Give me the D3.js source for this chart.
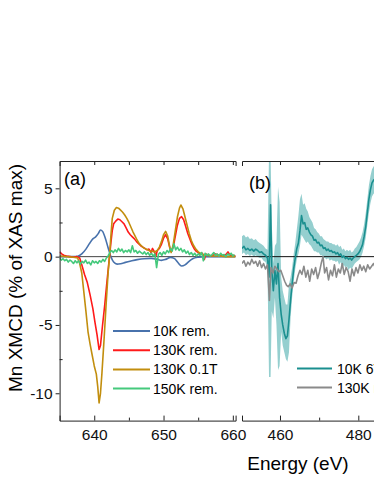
<!DOCTYPE html>
<html>
<head>
<meta charset="utf-8">
<script src="https://cdn.jsdelivr.net/npm/d3@7"></script>
<style>
body { margin: 0; background: #fff; }
svg { display: block; font-family: "Liberation Sans", Arial, sans-serif; }
.axis path, .axis line { stroke: #222; stroke-width: 1; }
.axis text { font-size: 15.5px; fill: #111; }
</style>
</head>
<body>
<div id="chart"></div>
<script>
// ---- panel (a): Mn L edge ----
var blueE = [635, 637, 637.6, 638.2, 638.8, 639.3, 639.8, 640.2, 640.6, 640.9, 641.2, 641.6, 642.0, 642.4, 642.8, 643.3, 643.8, 644.5, 645.3, 646.2, 647.2, 648.2, 649.0, 649.7, 650.3, 651.0, 651.6, 652.1, 652.6, 653.1, 653.6, 654.2, 655, 656, 660.4];
var blueV = [0, 0, 0.02, 0.2, 0.55, 0.95, 1.3, 1.45, 1.7, 1.95, 1.85, 1.35, 0.65, 0.0, -0.4, -0.55, -0.52, -0.42, -0.32, -0.22, -0.15, -0.13, -0.18, -0.27, -0.2, -0.05, -0.15, -0.45, -0.68, -0.6, -0.38, -0.15, -0.04, 0, 0];

var redE = [635, 635.3, 635.6, 636, 636.5, 637, 637.5, 637.9, 638.2, 638.6, 639.0, 639.4, 639.8, 640.1, 640.4, 640.7, 640.9, 641.2, 641.5, 641.8, 642.0, 642.2, 642.4, 642.6, 642.8, 643.1, 643.4, 643.7, 644.0, 644.3, 644.6, 644.9, 645.2, 645.5, 645.8, 646.1, 646.4, 646.7, 647.0, 647.3, 647.6, 647.9, 648.2, 648.4, 648.7, 648.9, 649.1, 649.4, 649.7, 650.0, 650.3, 650.6, 650.9, 651.1, 651.4, 651.7, 652.0, 652.3, 652.6, 652.9, 653.2, 653.5, 653.8, 654.1, 654.4, 654.7, 655.0, 655.3, 655.6, 655.9, 656.1, 656.5, 657, 657.5, 658, 658.5, 659, 659.3, 659.6, 660, 660.4];
var redV = [0.35, 0.2, 0.1, 0.05, 0.0, -0.05, 0.0, -0.1, -0.6, -1.3, -1.9, -2.8, -3.8, -4.8, -5.7, -6.8, -6.5, -5.0, -3.6, -2.0, -1.0, 0.0, 1.0, 1.9, 2.4, 2.6, 2.75, 2.7, 2.55, 2.4, 2.1, 1.8, 1.6, 1.45, 1.3, 1.1, 0.95, 0.8, 0.7, 0.6, 0.5, 0.55, 0.3, 0.6, 0.35, 0.05, 0.45, 0.6, 0.9, 1.35, 1.6, 1.3, 0.65, 0.4, 0.7, 1.5, 2.3, 2.8, 2.93, 2.7, 2.2, 1.7, 1.3, 0.9, 0.6, 0.4, 0.3, 0.15, 0.25, -0.2, 0.2, 0.1, 0.05, 0.2, 0.1, 0.05, 0.15, 0.35, 0.1, 0.1, 0.05];

var goldE = [635, 636, 637, 637.6, 637.9, 638.2, 638.5, 638.8, 639.1, 639.4, 639.7, 640.0, 640.3, 640.5, 640.7, 640.9, 641.1, 641.4, 641.7, 642.0, 642.2, 642.4, 642.6, 642.9, 643.2, 643.5, 643.8, 644.1, 644.4, 644.7, 645.0, 645.3, 645.6, 645.9, 646.2, 646.5, 646.8, 647.1, 647.5, 647.9, 648.3, 648.7, 649.1, 649.4, 649.7, 650.0, 650.3, 650.6, 650.9, 651.1, 651.4, 651.7, 652.0, 652.3, 652.5, 652.8, 653.1, 653.4, 653.7, 654.0, 654.3, 654.6, 655.0, 655.5, 656, 657, 658, 659, 660.4];
var goldV = [0.05, 0.0, -0.05, -0.1, -0.5, -1.2, -2.6, -4.0, -5.5, -6.4, -7.2, -8.0, -8.6, -9.5, -10.7, -10.0, -8.6, -6.2, -3.6, -1.2, 0.0, 1.5, 2.8, 3.4, 3.6, 3.55, 3.4, 3.25, 3.05, 2.8, 2.5, 2.15, 1.8, 1.5, 1.2, 0.95, 0.8, 0.65, 0.55, 0.45, 0.4, 0.35, 0.45, 0.7, 1.1, 1.6, 1.85, 1.5, 0.7, 0.3, 0.9, 1.9, 2.9, 3.55, 3.78, 3.5, 2.9, 2.3, 1.7, 1.2, 0.85, 0.6, 0.35, 0.2, 0.1, 0.05, 0.05, 0.0, 0.0];

var greenE = [635, 635.25, 635.5, 635.75, 636, 636.25, 636.5, 636.75, 637, 637.25, 637.5, 637.75, 638, 638.25, 638.5, 638.75, 639, 639.25, 639.5, 639.75, 640, 640.25, 640.5, 640.75, 641, 641.25, 641.5, 641.75, 642, 642.25, 642.5, 642.75, 643, 643.25, 643.5, 643.75, 644, 644.25, 644.5, 644.75, 645, 645.25, 645.5, 645.75, 646, 646.25, 646.5, 646.75, 647, 647.25, 647.5, 647.75, 648, 648.25, 648.5, 648.75, 649, 649.25, 649.5, 649.75, 650, 650.25, 650.5, 650.75, 651, 651.25, 651.5, 651.75, 652, 652.25, 652.5, 652.75, 653, 653.25, 653.5, 653.75, 654, 654.25, 654.5, 654.75, 655, 655.25, 655.5, 655.75, 656, 656.25, 656.5, 656.75, 657, 657.25, 657.5, 657.75, 658, 658.25, 658.5, 658.75, 659, 659.25, 659.5, 659.75, 660, 660.25];
var greenV = [-0.1, -0.25, -0.15, -0.3, -0.2, -0.4, -0.25, -0.35, -0.5, -0.3, -0.45, -0.3, -0.55, -0.35, -0.45, -0.25, -0.5, -0.4, -0.6, -0.3, -0.45, -0.35, -0.5, -0.3, -0.4, -0.2, -0.35, -0.1, 0.05, 0.3, 0.45, 0.3, 0.5, 0.35, 0.6, 0.4, 0.55, 0.3, 0.45, 0.35, 0.5, 0.3, 0.8, 0.35, 0.45, 0.25, 0.4, 0.3, 0.2, 0.35, 0.15, 0.3, 0.1, 0.25, 0.05, 0.2, -0.8, 0.15, 0.3, 0.1, 0.35, 0.2, 0.45, 0.3, 0.6, 0.4, 0.95, 0.5, 0.7, 0.45, 0.6, 0.35, 0.5, 0.25, 0.4, 0.15, 0.3, 0.1, 0.25, 0.05, 0.2, 0.1, 0.3, -0.3, 0.25, 0.1, 0.2, 0.05, 0.15, 0.3, 0.1, 0.2, 0.05, 0.25, 0.1, 0.15, 0.0, 0.2, 0.1, 0.25, 0.05, 0.15];

var legendA = ["10K rem.", "130K rem.", "130K 0.1T", "150K rem."];
var colorsA = ["#4872ac", "#ff1a1a", "#c28e0e", "#45c97c"];

// ---- panel (b) ----
var tealE = [450.3, 450.8, 451.3, 451.8, 452.3, 452.8, 453.3, 453.8, 454.3, 454.8, 455.3, 455.8, 456.3, 456.8, 457.2, 457.6, 457.9, 458.3, 458.7, 459.1, 459.5, 459.9, 460.3, 460.7, 461.1, 461.5, 461.9, 462.3, 462.7, 463.1, 463.5, 463.9, 464.3, 464.7, 465.1, 465.5, 465.9, 466.3, 466.7, 467.1, 467.5, 467.9, 468.3, 468.7, 469.1, 469.5, 469.9, 470.3, 470.7, 471.1, 471.5, 471.9, 472.3, 472.7, 473.1, 473.5, 473.9, 474.3, 474.7, 475.1, 475.5, 475.9, 476.3, 476.7, 477.1, 477.5, 477.9, 478.3, 478.7, 479.1, 479.5, 479.9, 480.3, 480.7, 481.1, 481.5, 481.9, 482.3, 482.7, 483.1, 483.5, 483.9, 484.3];
var tealV = [0.6, 0.75, 0.5, 0.6, 0.45, 0.55, 0.4, 0.55, 0.45, 0.3, 0.35, 0.2, 0.1, -0.1, -1.5, 3.8, -1.0, -2.5, -1.0, -2.0, -0.5, -3.0, -4.2, -5.0, -5.6, -6.0, -5.8, -4.6, -3.2, -2.0, -0.9, -0.1, 0.6, 1.0, 1.9, 3.0, 2.4, 2.5, 2.0, 2.1, 1.8, 1.6, 1.5, 1.2, 1.25, 1.0, 1.05, 0.8, 0.85, 0.6, 0.65, 0.45, 0.55, 0.4, 0.45, 0.3, 0.35, 0.2, 0.3, 0.1, 0.2, -0.05, 0.05, -0.15, -0.05, -0.2, -0.1, -0.25, -0.1, 0.0, 0.1, 0.2, 0.35, 0.6, 0.9, 1.5, 2.2, 3.2, 4.2, 4.9, 5.4, 5.6, 5.7];
var tealLo = [0.2, 0.3, 0.1, 0.2, 0.05, 0.15, 0.0, 0.1, 0.0, -0.1, -0.1, -0.3, -0.4, -0.9, -8.8, -8.8, -4.0, -4.5, -3.0, -5.0, -8.3, -8.0, -5.5, -6.5, -7.0, -7.5, -7.7, -7.0, -4.5, -3.0, -1.8, -0.9, -0.2, 0.2, 0.8, 1.6, 1.4, 1.2, 1.0, 1.1, 0.9, 0.8, 0.6, 0.4, 0.4, 0.3, 0.3, 0.1, 0.1, -0.1, -0.1, -0.2, -0.1, -0.3, -0.2, -0.3, -0.3, -0.4, -0.3, -0.6, -0.4, -0.9, -0.6, -0.8, -0.7, -1.0, -0.8, -0.9, -0.7, -0.5, -0.4, -0.3, -0.2, 0.0, 0.3, 0.8, 1.4, 2.3, 3.2, 3.9, 4.4, 4.6, 4.7];
var tealHi = [1.5, 1.6, 1.4, 1.5, 1.3, 1.35, 1.2, 1.3, 1.1, 1.0, 0.9, 0.8, 0.6, 0.5, 7.5, 7.5, 2.5, -0.5, 0.8, 1.0, 5.1, 4.0, -1.5, -2.5, -3.0, -3.5, -3.5, -2.0, -1.5, -0.8, 0.2, 1.0, 2.0, 3.0, 4.2, 4.6, 3.8, 3.9, 3.5, 3.3, 2.9, 2.7, 2.5, 2.1, 2.0, 1.8, 1.7, 1.5, 1.5, 1.3, 1.2, 1.1, 1.1, 1.0, 1.0, 0.9, 0.9, 0.8, 0.9, 0.7, 0.8, 0.5, 0.6, 0.4, 0.5, 0.4, 0.5, 0.3, 0.4, 0.6, 0.7, 0.9, 1.1, 1.4, 1.8, 2.4, 3.2, 4.2, 5.2, 5.9, 6.4, 6.6, 6.7];

var grayE = [450.3, 450.8, 451.3, 451.8, 452.3, 452.8, 453.3, 453.8, 454.3, 454.8, 455.3, 455.8, 456.3, 456.8, 457.3, 457.7, 458.2, 458.7, 459.2, 459.7, 460.2, 460.7, 461.2, 461.7, 462.1, 462.6, 463.1, 463.6, 464.1, 464.6, 465.1, 465.6, 466.1, 466.6, 467.1, 467.6, 468.1, 468.6, 469.1, 469.6, 470.1, 470.6, 471.0, 471.4, 471.9, 472.4, 472.9, 473.4, 473.9, 474.4, 474.9, 475.4, 475.9, 476.4, 476.9, 477.4, 477.9, 478.4, 478.9, 479.4, 479.9, 480.4, 480.9, 481.4, 481.9, 482.4, 482.9, 483.4, 483.9, 484.3];
var grayV = [-0.5, -0.3, -0.7, -0.4, -0.6, -0.2, -0.5, -0.35, -0.7, -0.3, -0.8, -0.5, -0.9, -0.6, -3.2, -0.8, -1.2, -0.7, -0.9, -1.1, -1.0, -1.4, -1.8, -2.1, -2.2, -2.0, -2.3, -1.9, -1.95, -1.4, -1.0, -1.3, -0.7, -1.5, -1.0, -1.8, -0.9, -1.3, -0.8, -1.6, -1.1, -0.4, 0.0, -1.2, -0.8, -1.7, -1.0, -1.4, -0.6, -1.5, -0.9, -1.2, -0.5, -1.3, -0.8, -1.1, -1.8, -0.9, -1.4, -0.8, -1.2, -0.6, -1.0, -0.7, -1.1, -0.6, -0.9, -0.7, -0.5, -0.8];

var legendB = ["10K 6T", "130K rem."];
var colorsB = ["#1a8f8f", "#8a8a8a"];

var width = 374, height = 484;
var plotTop = 161, plotBottom = 420.6;

var svg = d3.select("#chart").append("svg")
    .attr("width", width)
    .attr("height", height);

var y = d3.scaleLinear().domain([-12, 7]).range([plotBottom, plotTop]);
var xA = d3.scaleLinear().domain([635, 660.4]).range([59.6, 235.6]);
var xB = d3.scaleLinear().domain([450.3, 492]).range([242, 405.3]);

// clip areas
var defs = svg.append("defs");
defs.append("clipPath").attr("id", "clipA").append("rect")
    .attr("x", xA.range()[0]).attr("y", plotTop)
    .attr("width", xA.range()[1] - xA.range()[0]).attr("height", plotBottom - plotTop);
defs.append("clipPath").attr("id", "clipB").append("rect")
    .attr("x", xB.range()[0]).attr("y", plotTop)
    .attr("width", xB.range()[1] - xB.range()[0]).attr("height", plotBottom - plotTop);

var gA = svg.append("g").attr("clip-path", "url(#clipA)");
var gB = svg.append("g").attr("clip-path", "url(#clipB)");

// zero line (a)
gA.append("line")
    .attr("x1", xA.range()[0]).attr("x2", xA.range()[1])
    .attr("y1", y(0)).attr("y2", y(0))
    .attr("stroke", "#444").attr("stroke-width", 1);

function drawLine(g, x, xs, ys, color, curve) {
    var line = d3.line()
        .x(function(d) { return x(d[0]); })
        .y(function(d) { return y(d[1]); })
        .curve(curve || d3.curveLinear);
    g.append("path")
        .datum(d3.zip(xs, ys))
        .attr("d", line)
        .attr("fill", "none")
        .attr("stroke", color)
        .attr("stroke-width", 1.6)
        .attr("stroke-linejoin", "round");
}

drawLine(gA, xA, blueE, blueV, colorsA[0], d3.curveMonotoneX);
drawLine(gA, xA, redE, redV, colorsA[1]);
drawLine(gA, xA, goldE, goldV, colorsA[2]);
drawLine(gA, xA, greenE, greenV, colorsA[3]);

// panel (b) band
var band = d3.area()
    .x(function(d) { return xB(d[0]); })
    .y0(function(d) { return y(d[1]); })
    .y1(function(d) { return y(d[2]); });
gB.append("path")
    .datum(d3.zip(tealE, tealLo, tealHi))
    .attr("d", band)
    .attr("fill", "#95cfcf");

gB.append("line")
    .attr("x1", xB.range()[0]).attr("x2", xB.range()[1])
    .attr("y1", y(0)).attr("y2", y(0))
    .attr("stroke", "#111").attr("stroke-width", 1);

drawLine(gB, xB, tealE, tealV, colorsB[0]);
drawLine(gB, xB, grayE, grayV, colorsB[1]);

// axes panel (a)
svg.append("g").attr("class", "axis")
    .attr("transform", "translate(0," + plotBottom + ")")
    .call(d3.axisBottom(xA).tickValues([640, 650, 660]).tickSizeInner(-5).tickSizeOuter(-5).tickPadding(8).tickFormat(d3.format("d")));
svg.append("g").attr("class", "axis")
    .attr("transform", "translate(0," + plotBottom + ")")
    .call(d3.axisBottom(xA).tickValues([645, 655]).tickSize(-3).tickFormat(""))
    .select(".domain").remove();
svg.append("g").attr("class", "axis")
    .attr("transform", "translate(0," + plotTop + ")")
    .call(d3.axisTop(xA).tickValues([640, 645, 650, 655, 660]).tickSizeInner(-4).tickSizeOuter(-5).tickFormat(""));
svg.append("g").attr("class", "axis")
    .attr("transform", "translate(" + xA.range()[0] + ",0)")
    .call(d3.axisLeft(y).tickValues([5, 0, -5, -10]).tickSizeInner(4).tickSizeOuter(0).tickPadding(3).tickFormat(function(d) { return String(d); }));
svg.append("g").attr("class", "axis")
    .attr("transform", "translate(" + xA.range()[0] + ",0)")
    .call(d3.axisLeft(y).tickValues([2.5, -2.5, -7.5]).tickSize(-3).tickFormat(""))
    .select(".domain").remove();

// axes panel (b)
svg.append("g").attr("class", "axis")
    .attr("transform", "translate(0," + plotBottom + ")")
    .call(d3.axisBottom(xB).tickValues([460, 480]).tickSizeInner(-5).tickSizeOuter(-5).tickPadding(8).tickFormat(d3.format("d")));
svg.append("g").attr("class", "axis")
    .attr("transform", "translate(0," + plotBottom + ")")
    .call(d3.axisBottom(xB).tickValues([470]).tickSize(-3).tickFormat(""))
    .select(".domain").remove();
svg.append("g").attr("class", "axis")
    .attr("transform", "translate(0," + plotTop + ")")
    .call(d3.axisTop(xB).tickValues([460, 470, 480]).tickSizeInner(-4).tickSizeOuter(-5).tickFormat(""));

// panel labels
svg.append("text").attr("x", 64).attr("y", 185)
    .style("font-size", "18px").text("(a)");
svg.append("text").attr("x", 249).attr("y", 189)
    .style("font-size", "18px").text("(b)");

// legend (a)
var legA = svg.append("g").attr("transform", "translate(113,331)");
legendA.forEach(function(name, i) {
    legA.append("line")
        .attr("x1", 0).attr("x2", 37)
        .attr("y1", i * 19.2).attr("y2", i * 19.2)
        .attr("stroke", colorsA[i]).attr("stroke-width", 2);
    legA.append("text")
        .attr("x", 40).attr("y", i * 19.2 + 5)
        .style("font-size", "14px").text(name);
});

// legend (b)
var legB = svg.append("g").attr("transform", "translate(297,368.5)");
legendB.forEach(function(name, i) {
    legB.append("line")
        .attr("x1", 0).attr("x2", 35)
        .attr("y1", i * 19).attr("y2", i * 19)
        .attr("stroke", colorsB[i]).attr("stroke-width", 2);
    legB.append("text")
        .attr("x", 40).attr("y", i * 19 + 5)
        .style("font-size", "14px").text(name);
});

// axis titles
svg.append("text")
    .attr("x", 298).attr("y", 470)
    .attr("text-anchor", "middle")
    .style("font-size", "19px")
    .text("Energy (eV)");
svg.append("text")
    .attr("transform", "translate(22,278) rotate(-90)")
    .attr("text-anchor", "middle")
    .style("font-size", "19px")
    .text("Mn XMCD (% of XAS max)");
</script>
</body>
</html>
